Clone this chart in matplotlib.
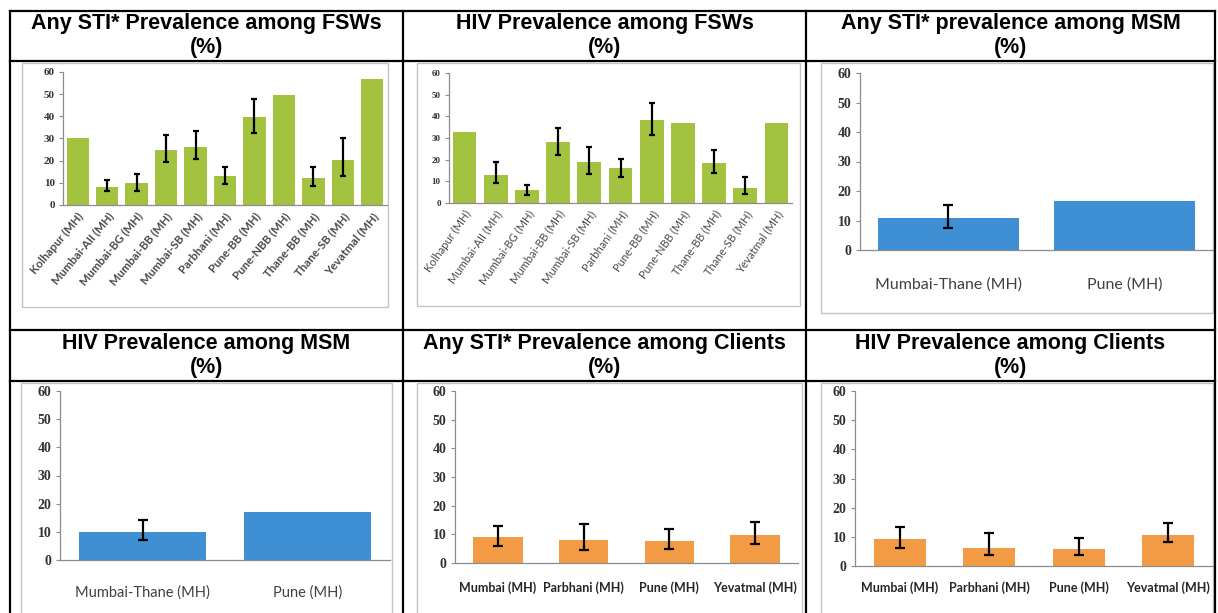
import matplotlib
matplotlib.use("Agg")
import matplotlib.pyplot as plt
from matplotlib.lines import Line2D
from matplotlib.patches import Rectangle

W, H = 1218, 613

# ---------------- data ----------------
fsw_sites = ["Kolhapur (MH)", "Mumbai-AII (MH)", "Mumbai-BG (MH)", "Mumbai-BB (MH)",
             "Mumbai-SB (MH)", "Parbhani (MH)", "Pune-BB (MH)", "Pune-NBB (MH)",
             "Thane-BB (MH)", "Thane-SB (MH)", "Yevatmal (MH)"]
fsw_sti = [30.3, 8.3, 9.8, 24.8, 26.0, 13.0, 39.7, 49.8, 12.4, 20.3, 57.0]
fsw_sti_lo = [None, 6.4, 6.2, 19.6, 20.6, 9.5, 32.7, None, 8.6, 13.2, None]
fsw_sti_hi = [None, 11.1, 14.2, 31.4, 33.4, 17.2, 47.6, None, 17.3, 30.0, None]

fsw_hiv = [32.7, 13.0, 5.8, 28.1, 19.0, 16.0, 38.5, 37.1, 18.4, 6.8, 37.1]
fsw_hiv_lo = [None, 9.3, 3.5, 22.1, 13.4, 11.9, 31.2, None, 13.8, 4.0, None]
fsw_hiv_hi = [None, 18.7, 8.1, 34.4, 26.0, 20.4, 46.2, None, 24.5, 12.2, None]

msm_sites = ["Mumbai-Thane (MH)", "Pune (MH)"]
msm_sti = [10.7, 16.7]
msm_sti_lo = [7.4, None]
msm_sti_hi = [15.2, None]
msm_hiv = [9.9, 17.2]
msm_hiv_lo = [7.0, None]
msm_hiv_hi = [14.3, None]

cli_sites = ["Mumbai (MH)", "Parbhani (MH)", "Pune (MH)", "Yevatmal (MH)"]
cli_sti = [8.9, 7.9, 7.7, 9.7]
cli_sti_lo = [5.9, 4.5, 5.0, 6.5]
cli_sti_hi = [12.8, 13.5, 11.9, 14.4]
cli_hiv = [9.1, 6.3, 6.0, 10.8]
cli_hiv_lo = [6.1, 3.7, 3.7, 8.2]
cli_hiv_hi = [13.3, 11.2, 9.7, 14.9]

yticks = [0, 10, 20, 30, 40, 50, 60]

titles_row1 = ["Any STI* Prevalence among FSWs", "HIV Prevalence among FSWs",
               "Any STI* prevalence among MSM"]
titles_row2 = ["HIV Prevalence among MSM", "Any STI* Prevalence among Clients",
               "HIV Prevalence among Clients"]

GREEN = "#a3c23f"
BLUE = "#3f8fd4"
ORANGE = "#f39a45"

fig = plt.figure(figsize=(W / 100, H / 100), dpi=100)
fig.patch.set_facecolor("white")


def fx(x):
    return x / W


def fy(y):
    return 1 - y / H


def add_axes_px(x0, x1, ytop, ybot):
    return fig.add_axes([fx(x0), fy(ybot), fx(x1 - x0), (ybot - ytop) / H])


def box(x0, x1, y0, y1):
    fig.patches.append(Rectangle((fx(x0), fy(y1)), fx(x1 - x0), (y1 - y0) / H,
                                 transform=fig.transFigure, facecolor="none",
                                 edgecolor="#c4c4c4", linewidth=1.0, zorder=-5))


def panel(ax, cats, vals, lo, hi, color, width, tick_fs, cat_fs, rot, pad, cap,
          catcolor="#404040", catweight="normal"):
    x = list(range(len(cats)))
    ax.bar(x, vals, width=width, color=color, zorder=2)
    ex, ey, el, eh = [], [], [], []
    for i, (v, l, h) in enumerate(zip(vals, lo, hi)):
        if l is not None:
            ex.append(i); ey.append(v); el.append(v - l); eh.append(h - v)
    if ex:
        ax.errorbar(ex, ey, yerr=[el, eh], fmt="none", ecolor="black",
                    elinewidth=1.6, capsize=cap, capthick=1.6, zorder=3)
    ax.set_xlim(-0.5, len(cats) - 0.5)
    ax.set_ylim(0, 60)
    ax.set_yticks(yticks)
    ax.set_yticklabels([str(t) for t in yticks], family="Liberation Serif",
                       fontweight="bold", fontsize=tick_fs, color="#333333")
    ax.set_xticks(x)
    if rot:
        ax.set_xticklabels(cats, rotation=rot, ha="right", va="top",
                           rotation_mode="anchor", family="Lato",
                           fontsize=cat_fs, color=catcolor, fontweight=catweight)
    else:
        ax.set_xticklabels(cats, family="Lato", fontsize=cat_fs, color=catcolor,
                           fontweight=catweight)
    ax.tick_params(axis="x", length=0, pad=pad)
    ax.tick_params(axis="y", length=3, color="#8c8c8c", width=0.8, pad=3)
    for s in ("top", "right"):
        ax.spines[s].set_visible(False)
    for s in ("left", "bottom"):
        ax.spines[s].set_color("#8c8c8c")
        ax.spines[s].set_linewidth(0.9)
    ax.set_facecolor("none")


# image boxes
box(22, 388, 63, 307)
box(417, 800, 63, 306)
box(821, 1213, 63, 313)
box(21, 392, 383, 640)
box(417, 802, 383, 640)
box(821, 1213, 383, 640)

ax1 = add_axes_px(63, 387, 72, 205)
panel(ax1, fsw_sites, fsw_sti, fsw_sti_lo, fsw_sti_hi, GREEN, 0.76, 8, 8.3, 50, 4, 2.5,
      catcolor="#4a4a4a", catweight="bold")

ax2 = add_axes_px(449, 792, 73, 203)
panel(ax2, fsw_sites, fsw_hiv, fsw_hiv_lo, fsw_hiv_hi, GREEN, 0.76, 6.5, 8, 55, 4, 2.5,
      catcolor="#4a4a4a")

ax3 = add_axes_px(860, 1213, 73, 250)
panel(ax3, msm_sites, msm_sti, msm_sti_lo, msm_sti_hi, BLUE, 0.8, 10, 11.5, 0, 20, 3.5)

ax4 = add_axes_px(60, 390, 391, 560)
panel(ax4, msm_sites, msm_hiv, msm_hiv_lo, msm_hiv_hi, BLUE, 0.77, 10, 10.5, 0, 18, 3.5)

ax5 = add_axes_px(455, 798, 391, 563)
panel(ax5, cli_sites, cli_sti, cli_sti_lo, cli_sti_hi, ORANGE, 0.58, 10, 9, 0, 13, 3.5,
      catcolor="#262626", catweight="bold")

ax6 = add_axes_px(855, 1213, 391, 566)
panel(ax6, cli_sites, cli_hiv, cli_hiv_lo, cli_hiv_hi, ORANGE, 0.58, 10, 9, 0, 11, 3.5,
      catcolor="#262626", catweight="bold")

# table grid
lw = 1.6
for y in (11, 61, 330, 381):
    fig.lines.append(Line2D([fx(10), fx(1215)], [fy(y), fy(y)], transform=fig.transFigure,
                            color="black", linewidth=lw, zorder=10))
for x in (10, 403, 806, 1215):
    fig.lines.append(Line2D([fx(x), fx(x)], [fy(11), fy(613)], transform=fig.transFigure,
                            color="black", linewidth=lw, zorder=10))

centers = [206.5, 604.5, 1010.5]
for cx, t in zip(centers, titles_row1):
    fig.text(fx(cx), fy(23), t, ha="center", va="center", fontsize=15.5,
             fontweight="bold", family="Liberation Sans")
    fig.text(fx(cx), fy(47), "(%)", ha="center", va="center", fontsize=15.5,
             fontweight="bold", family="Liberation Sans")
for cx, t in zip(centers, titles_row2):
    fig.text(fx(cx), fy(343), t, ha="center", va="center", fontsize=15.5,
             fontweight="bold", family="Liberation Sans")
    fig.text(fx(cx), fy(367), "(%)", ha="center", va="center", fontsize=15.5,
             fontweight="bold", family="Liberation Sans")

fig.savefig("out.png", dpi=100)
